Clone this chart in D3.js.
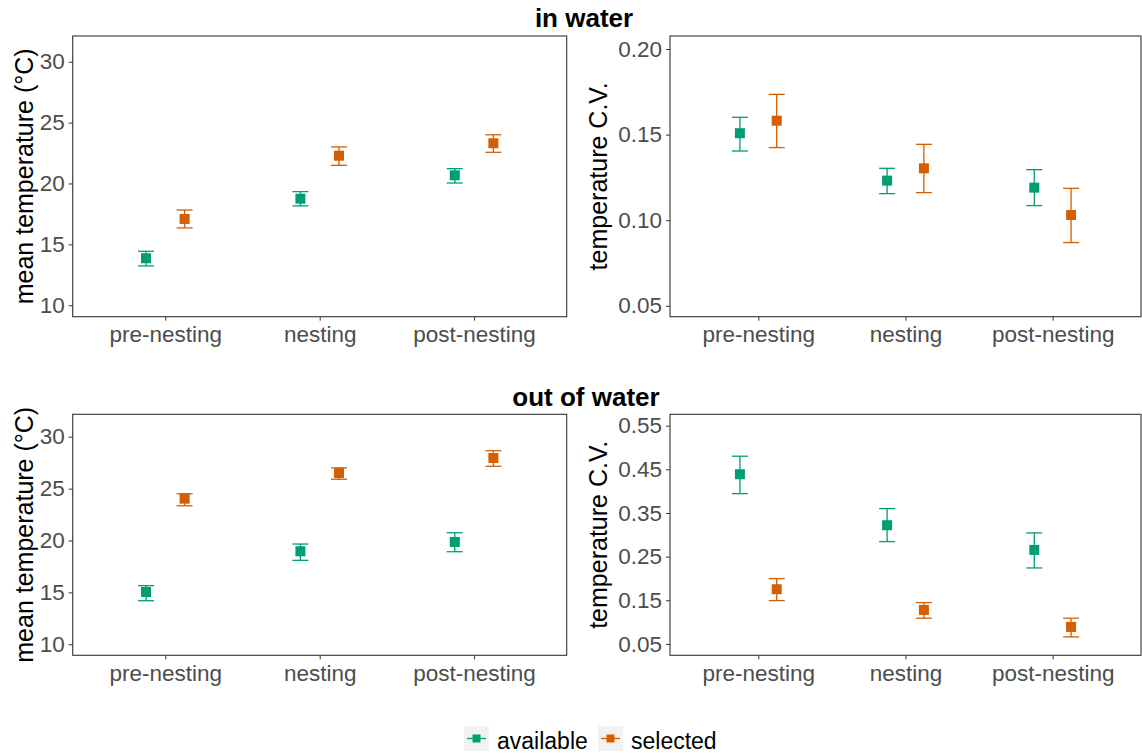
<!DOCTYPE html>
<html>
<head>
<meta charset="utf-8">
<script src="https://cdnjs.cloudflare.com/ajax/libs/d3/7.8.5/d3.min.js"></script>
<style>
body { margin: 0; background: #fff; }
text { font-family: "Liberation Sans", Arial, sans-serif; }
</style>
</head>
<body>
<div id="chart"></div>
<script>
// categories and groups
var periods = ["pre-nesting", "nesting", "post-nesting"];
var groups = ["available", "selected"];
var groupColors = ["#009E73", "#D55E00"];

// each entry: [mean, lower, upper], one per period
var waterMeanAvailable = [[13.86, 13.23, 14.43], [18.75, 18.16, 19.33], [20.67, 20.04, 21.22]];
var waterMeanSelected  = [[17.09, 16.35, 17.82], [22.28, 21.49, 23.00], [23.30, 22.56, 24.00]];
var waterCvAvailable   = [[0.1508, 0.1404, 0.1601], [0.1231, 0.1155, 0.1303], [0.1190, 0.1085, 0.1295]];
var waterCvSelected    = [[0.1581, 0.1424, 0.1735], [0.1303, 0.1161, 0.1443], [0.1030, 0.0869, 0.1186]];
var airMeanAvailable   = [[15.04, 14.20, 15.65], [18.96, 18.09, 19.66], [19.86, 18.92, 20.75]];
var airMeanSelected    = [[24.03, 23.35, 24.51], [26.50, 25.90, 27.00], [27.95, 27.15, 28.65]];
var airCvAvailable     = [[0.4387, 0.3943, 0.4800], [0.3219, 0.2844, 0.3600], [0.2654, 0.2241, 0.3043]];
var airCvSelected      = [[0.1753, 0.1493, 0.1997], [0.1280, 0.1090, 0.1447], [0.0890, 0.0662, 0.1090]];

// tick labels
var meanTicks = [10, 15, 20, 25, 30];
var waterCvTicks = [0.05, 0.10, 0.15, 0.20];
var airCvTicks = [0.05, 0.15, 0.25, 0.35, 0.45, 0.55];

var W = 1142, H = 754;
var svg = d3.select("#chart").append("svg")
	.attr("width", W)
	.attr("height", H);

function drawPanel(box, yDomain, ticks, fmt, title, series) {
	var x = d3.scalePoint()
		.domain(periods)
		.range([box.left, box.right])
		.padding(0.6);
	var y = d3.scaleLinear()
		.domain(yDomain)
		.range([box.bottom, box.top]);
	var dodge = x.step() * 0.125;

	var g = svg.append("g");

	// y axis
	var yAxis = g.append("g")
		.attr("transform", "translate(" + box.left + ",0)")
		.call(d3.axisLeft(y).tickValues(ticks).tickSize(4).tickPadding(4).tickFormat(fmt));
	yAxis.select(".domain").remove();
	yAxis.selectAll("line").attr("stroke", "#333333");
	yAxis.selectAll("text")
		.attr("fill", "#4d4d4d")
		.style("font-size", "22.5px")
		.attr("font-family", null);

	// x axis
	var xAxis = g.append("g")
		.attr("transform", "translate(0," + box.bottom + ")")
		.call(d3.axisBottom(x).tickSize(4).tickPadding(6));
	xAxis.select(".domain").remove();
	xAxis.selectAll("line").attr("stroke", "#333333");
	xAxis.selectAll("text")
		.attr("fill", "#4d4d4d")
		.style("font-size", "22.5px")
		.attr("font-family", null)
		.attr("dy", null)
		.attr("y", 25.5);

	// panel border
	g.append("rect")
		.attr("x", box.left)
		.attr("y", box.top)
		.attr("width", box.right - box.left)
		.attr("height", box.bottom - box.top)
		.attr("fill", "none")
		.attr("stroke", "#333333")
		.attr("stroke-width", 1.1);

	// y title
	g.append("text")
		.attr("transform", "translate(" + box.titleX + "," + ((box.top + box.bottom) / 2) + ") rotate(-90)")
		.attr("text-anchor", "middle")
		.style("font-size", "25px")
		.attr("fill", "#000")
		.text(title);

	// error bars and points
	series.forEach(function(s, gi) {
		var off = gi === 0 ? -dodge : dodge;
		var col = groupColors[gi];
		var items = g.selectAll(".pt" + gi)
			.data(s)
			.enter()
			.append("g")
			.attr("class", "pt" + gi);
		items.append("line")
			.attr("x1", function(d, i) { return x(periods[i]) + off; })
			.attr("x2", function(d, i) { return x(periods[i]) + off; })
			.attr("y1", function(d) { return y(d[1]); })
			.attr("y2", function(d) { return y(d[2]); })
			.attr("stroke", col)
			.attr("stroke-width", 1.3);
		[1, 2].forEach(function(k) {
			items.append("line")
				.attr("x1", function(d, i) { return x(periods[i]) + off - 8; })
				.attr("x2", function(d, i) { return x(periods[i]) + off + 8; })
				.attr("y1", function(d) { return y(d[k]); })
				.attr("y2", function(d) { return y(d[k]); })
				.attr("stroke", col)
				.attr("stroke-width", 1.3);
		});
		items.append("rect")
			.attr("x", function(d, i) { return x(periods[i]) + off - 5; })
			.attr("y", function(d) { return y(d[0]) - 5; })
			.attr("width", 10)
			.attr("height", 10)
			.attr("fill", col);
	});
}

var fmtInt = d3.format("d");
var fmt2 = d3.format(".2f");

drawPanel({left: 72.7, right: 566.7, top: 36, bottom: 316.7, titleX: 33},
	[9.06, 32.11], meanTicks, fmtInt, "mean temperature (°C)",
	[waterMeanAvailable, waterMeanSelected]);
drawPanel({left: 670, right: 1141, top: 36, bottom: 316.7, titleX: 607},
	[0.0436, 0.2076], waterCvTicks, fmt2, "temperature C.V.",
	[waterCvAvailable, waterCvSelected]);
drawPanel({left: 72.7, right: 566.7, top: 414.3, bottom: 655.3, titleX: 33},
	[8.94, 32.16], meanTicks, fmtInt, "mean temperature (°C)",
	[airMeanAvailable, airMeanSelected]);
drawPanel({left: 670, right: 1141, top: 414.3, bottom: 655.3, titleX: 607},
	[0.024, 0.576], airCvTicks, fmt2, "temperature C.V.",
	[airCvAvailable, airCvSelected]);

// row titles
svg.append("text")
	.attr("x", 584).attr("y", 26.5)
	.attr("text-anchor", "middle")
	.style("font-size", "26px")
	.style("font-weight", "bold")
	.text("in water");
svg.append("text")
	.attr("x", 586).attr("y", 405.5)
	.attr("text-anchor", "middle")
	.style("font-size", "26px")
	.style("font-weight", "bold")
	.text("out of water");

// legend
var legendX = [464, 598];
var legend = svg.selectAll(".legend")
	.data(groups)
	.enter()
	.append("g")
	.attr("class", "legend")
	.attr("transform", function(d, i) { return "translate(" + legendX[i] + ",726)"; });
legend.append("rect")
	.attr("width", 25)
	.attr("height", 25)
	.attr("fill", "#f2f2f2");
legend.append("line")
	.attr("x1", 3).attr("x2", 22)
	.attr("y1", 12.5).attr("y2", 12.5)
	.attr("stroke", function(d, i) { return groupColors[i]; })
	.attr("stroke-width", 1.3);
legend.append("rect")
	.attr("x", 8.5).attr("y", 8.5)
	.attr("width", 8).attr("height", 8)
	.attr("fill", function(d, i) { return groupColors[i]; });
legend.append("text")
	.attr("x", 33)
	.attr("y", 23)
	.style("font-size", "23px")
	.attr("fill", "#000")
	.text(function(d) { return d; });
</script>
</body>
</html>
